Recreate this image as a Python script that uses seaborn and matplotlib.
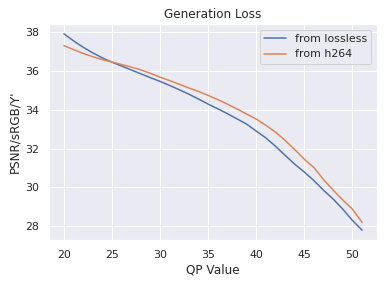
import numpy as np
import pandas as pd
import seaborn as sns
import matplotlib
matplotlib.use("Agg")
import matplotlib.pyplot as plt

qp = list(range(20, 52))
from_lossless = [37.91, 37.55, 37.22, 36.93, 36.67, 36.45, 36.25, 36.05, 35.85, 35.65,
                 35.46, 35.25, 35.03, 34.80, 34.55, 34.29, 34.05, 33.80, 33.53, 33.26,
                 32.90, 32.55, 32.12, 31.65, 31.20, 30.79, 30.35, 29.85, 29.40, 28.88,
                 28.30, 27.80]
from_h264 = [37.30, 37.10, 36.90, 36.73, 36.58, 36.46, 36.33, 36.20, 36.05, 35.87,
             35.68, 35.50, 35.31, 35.12, 34.94, 34.74, 34.52, 34.29, 34.04, 33.78,
             33.52, 33.20, 32.85, 32.42, 31.95, 31.45, 31.02, 30.40, 29.86, 29.35,
             28.88, 28.20]

sns.set_theme(style="darkgrid")

df = pd.DataFrame({
    "QP Value": qp * 2,
    "PSNR": from_lossless + from_h264,
    "source": ["from lossless"] * len(qp) + ["from h264"] * len(qp),
})

fig = plt.figure(figsize=(389 / 72, 284 / 72), dpi=72)
ax = fig.add_axes([49 / 389, 44 / 284, 328 / 389, 216 / 284])
sns.lineplot(data=df, x="QP Value", y="PSNR", hue="source", ax=ax, linewidth=1.5)
ax.set_title("Generation Loss")
ax.set_xlabel("QP Value")
ax.set_ylabel("PSNR/sRGB/Y'")
ax.set_yticks([28, 30, 32, 34, 36, 38])
ax.legend(title=None, loc="upper right")
fig.savefig("out.png", dpi=72)
